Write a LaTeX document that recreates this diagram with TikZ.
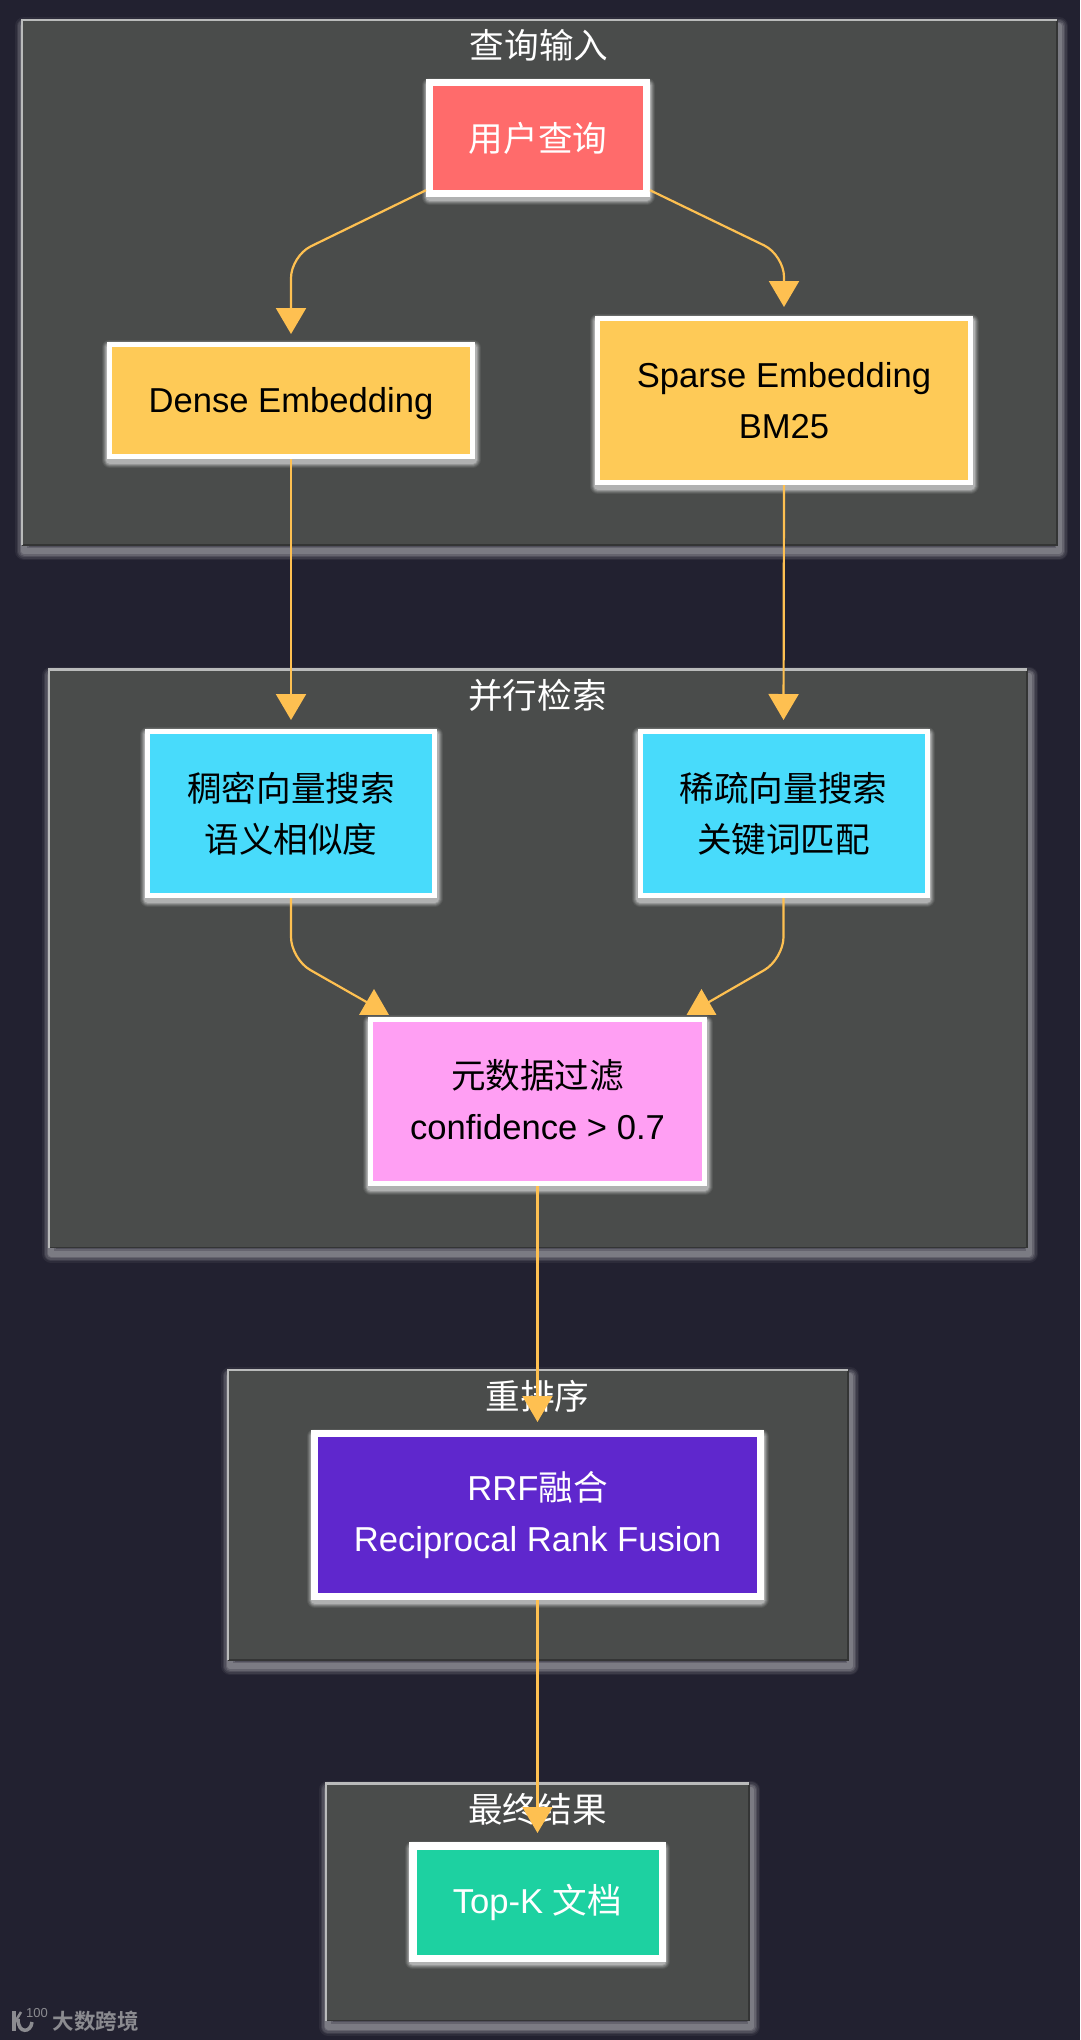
\documentclass[tikz,border=0pt]{standalone}
\usepackage{fontspec}
\usepackage{xcolor}
\setmainfont{Liberation Sans}
\newfontfamily\cjk{Noto Sans CJK SC}
\newfontfamily\cjkbold{Noto Sans CJK SC Bold}
\usetikzlibrary{arrows.meta, shapes.geometric}
\definecolor{pagebg}{HTML}{222130}
\definecolor{groupbg}{HTML}{4A4C4B}
\definecolor{flowcol}{HTML}{FEC051}
\definecolor{queryred}{HTML}{FF6B6B}
\definecolor{embedyellow}{HTML}{FECA57}
\definecolor{searchcyan}{HTML}{48DBFB}
\definecolor{filterpink}{HTML}{FF9FF3}
\definecolor{rrfpurple}{HTML}{5F27CD}
\definecolor{topkgreen}{HTML}{1DD1A1}
\definecolor{markgray}{HTML}{8B8B90}

\begin{document}
\begin{tikzpicture}[
  x=1pt, y=-1pt,
  glow/.style={
    preaction={draw=white, draw opacity=.07, line width=16pt, line join=round, transform canvas={yshift=-3pt}},
    preaction={draw=white, draw opacity=.1, line width=14pt, line join=round, transform canvas={yshift=-3pt}},
    preaction={draw=white, draw opacity=.14, line width=12pt, line join=round, transform canvas={yshift=-3pt}},
    preaction={draw=white, draw opacity=.2, line width=10pt, line join=round, transform canvas={yshift=-3pt}},
    preaction={draw=white, draw opacity=.25, line width=8pt, line join=round, transform canvas={yshift=-3pt}}},
  box/.style={glow, draw=white, rectangle, inner sep=0pt, align=center, text=black,
    font=\fontsize{34.6}{51}\selectfont},
  group/.style={
    preaction={draw=white, draw opacity=.05, line width=18pt, line join=round, transform canvas={xshift=2pt, yshift=-6pt}},
    preaction={draw=white, draw opacity=.08, line width=15pt, line join=round, transform canvas={xshift=2pt, yshift=-6pt}},
    preaction={draw=white, draw opacity=.1, line width=12pt, line join=round, transform canvas={xshift=2pt, yshift=-6pt}},
    preaction={draw=white, draw opacity=.12, line width=9pt, line join=round, transform canvas={xshift=2pt, yshift=-6pt}},
    preaction={draw=white, draw opacity=.15, line width=6pt, line join=round, transform canvas={xshift=2pt, yshift=-6pt}},
    fill=groupbg, rectangle, inner sep=0pt},
  grouptitle/.style={text=white, inner sep=0pt, font=\fontsize{34.6}{40}\selectfont\cjk},
  edgelight/.style={draw=white!62!groupbg, line width=2.5pt},
  edgedark/.style={draw=black!30!groupbg, line width=1.5pt},
  flow/.style={-{Triangle[length=26pt, width=30pt]}, draw=flowcol, line width=2.2pt, rounded corners=22pt},
  tipup/.style={regular polygon, regular polygon sides=3, fill=flowcol, inner sep=0pt, minimum size=34.6pt}
]

\path[use as bounding box, fill=pagebg] (0,0) rectangle (1080,2040);

\node[group, minimum width=1035pt, minimum height=525pt] (input_group) at (539.5,282.5) {};
\node[group, minimum width=978pt, minimum height=578pt] (search_group) at (538,958.5) {};
\node[group, minimum width=620pt, minimum height=290pt] (rerank_group) at (538,1515) {};
\node[group, minimum width=423pt, minimum height=237pt] (result_group) at (537.5,1902) {};

\foreach \g in {input_group, search_group, rerank_group, result_group} {
  \draw[edgedark] (\g.south west) -- (\g.south east) -- (\g.north east);
  \draw[edgelight] (\g.north east) -- (\g.north west) -- (\g.south west);
}

\node[grouptitle] (input_title) at (539,45) {查询输入};
\node[grouptitle] (search_title) at (537.5,695) {并行检索};
\node[grouptitle] (rerank_title) at (537.5,1396) {重排序};
\node[grouptitle] (result_title) at (537.5,1809) {最终结果};

\node[box, line width=7pt, fill=queryred, text=white, minimum width=217pt, minimum height=111pt] (user_query) at (538,138) {\cjk 用户查询};

\node[box, line width=5pt, fill=embedyellow, minimum width=363pt, minimum height=112pt, text depth=2pt] (dense_embed) at (291,400.5) {Dense Embedding};
\node[box, line width=5pt, fill=embedyellow, minimum width=373pt, minimum height=164pt] (sparse_embed) at (784,400.5) {Sparse Embedding\\BM25};

\node[box, line width=5pt, fill=searchcyan, minimum width=287pt, minimum height=164pt] (dense_search) at (291,813.5) {\cjk 稠密向量搜索\\\cjk 语义相似度};
\node[box, line width=5pt, fill=searchcyan, minimum width=287pt, minimum height=164pt] (sparse_search) at (783.5,813.5) {\cjk 稀疏向量搜索\\\cjk 关键词匹配};

\node[box, line width=5pt, fill=filterpink, minimum width=334pt, minimum height=164pt] (meta_filter) at (537.5,1101.5) {\cjk 元数据过滤\\confidence > 0.7\\[-46pt]\mbox{}};

\node[box, line width=7pt, fill=rrfpurple, text=white, minimum width=446pt, minimum height=163pt] (rrf_merge) at (537.5,1515) {RRF{\cjk 融合}\\Reciprocal Rank Fusion};

\node[box, line width=7.5pt, fill=topkgreen, text=white, minimum width=249.5pt, minimum height=112.5pt] (top_k) at (537.5,1902) {Top-K {\cjk 文档}};

\node[tipup] (tip_left) at (374,1006.3) {};
\node[tipup] (tip_right) at (701.5,1006.3) {};

\draw[flow, shorten >=8pt] (user_query.205) -- (291,256) -- (dense_embed.north);
\draw[flow, shorten >=9pt] (user_query.335) -- (784,255) -- (sparse_embed.north);
\draw[flow, shorten >=9pt] (dense_embed.south) -- (dense_search.north);
\draw[flow, shorten >=9pt] (sparse_embed.south) -- (sparse_search.north);
\draw[flow, -] (dense_search.south) -- (291,959) -- (tip_left.center);
\draw[flow, -] (sparse_search.south) -- (783.5,959) -- (tip_right.center);
\draw[flow, shorten >=8pt] (meta_filter.south) -- (rrf_merge.north);
\draw[flow, shorten >=9pt] (rrf_merge.south) -- (top_k.north);

\node[text=markgray, inner sep=0pt, font=\fontsize{21.5}{24}\cjkbold] (mark_text) at (95.5,2021) {大数跨境};
\node[text=markgray, inner sep=0pt, font=\fontsize{13}{14}\selectfont] (mark_num) at (37,2013) {100};
\draw[draw=markgray, line width=3.5pt] (14,2011) -- (14,2031);
\draw[draw=markgray, line width=2.5pt] (15,2022) -- (21,2012);
\draw[draw=markgray, line width=3.5pt] (18,2019) .. controls (18,2034) and (31,2033) .. (32,2022);
\end{tikzpicture}
\end{document}
